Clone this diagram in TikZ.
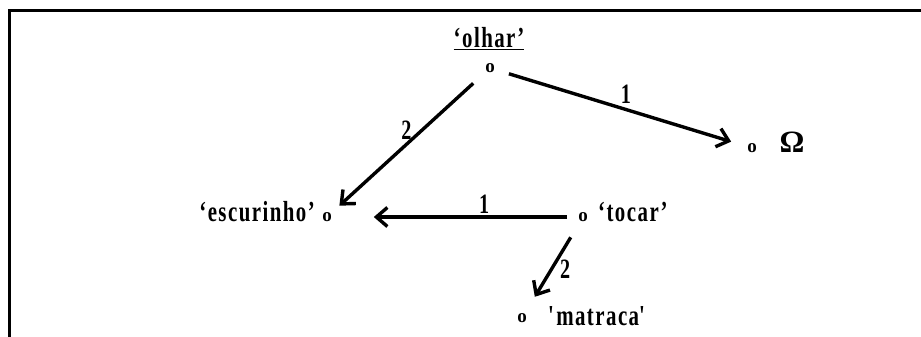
\documentclass[tikz,border=0pt]{standalone}
\usepackage{fontspec}
\setmainfont[FakeStretch=0.72,LetterSpace=5]{Liberation Serif}
\newfontfamily\plainserif{Liberation Serif}
\usetikzlibrary{arrows.meta}
\tikzset{
  lbl/.style={font=\bfseries\fontsize{29}{32}\selectfont, inner sep=1pt},
  dot/.style={font=\bfseries\plainserif\fontsize{19}{20}\selectfont, inner sep=0pt, circle, minimum size=12pt},
  num/.style={font=\bfseries\fontsize{28}{30}\selectfont, inner sep=1pt},
  arr/.style={line width=3.4pt, -{Straight Barb[length=11pt,width=19pt,line width=3.4pt]}},
  frame/.style={line width=3pt}
}
\begin{document}
\begin{tikzpicture}[x=1pt,y=-1pt]
\useasboundingbox (0,0) rectangle (921,337);
\draw[frame] (921,11) -- (9.5,11) -- (9.5,337);
% nodes
\node[dot] (olhar) at (490,68) {o};
\node[lbl, anchor=base] (olharL) at (489,48) {\underline{`olhar'}};
\node[dot] (omega) at (752,148) {o};
\node[font=\bfseries\plainserif\fontsize{31}{32}\selectfont, inner sep=0pt, anchor=base] (omegaL) at (792,152) {Ω};
\node[dot] (esc) at (327,217) {o};
\node[lbl, anchor=base east] (escL) at (316,221) {`escurinho'};
\node[dot] (tocar) at (583,217) {o};
\node[lbl, anchor=base west] (tocarL) at (597,221) {`tocar'};
\node[dot] (matraca) at (522,318) {o};
\node[lbl, anchor=base west] (matracaL) at (547,325) {\textquotesingle matraca\textquotesingle};
% edges
\draw[arr, shorten <=13pt, shorten >=15pt] (olhar) -- node[num, pos=0.52, above=3pt] (n1) {1} (omega);
\draw[arr, shorten <=16pt, shorten >=10pt] (olhar) -- node[num, pos=0.41, left=8pt] (n2) {2} (esc);
\draw[arr, shorten <=9pt, shorten >=40pt] (tocar) -- node[num, pos=0.38, above=1pt] (n3) {1} (esc);
\draw[arr, shorten <=17pt, shorten >=18pt] (tocar) -- node[num, pos=0.52, right=6pt] (n4) {2} (matraca);
\end{tikzpicture}
\end{document}
